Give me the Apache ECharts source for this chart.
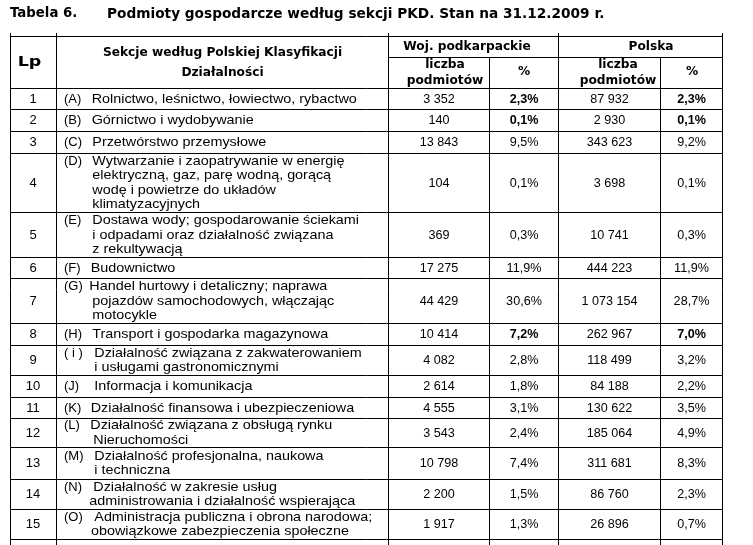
<!DOCTYPE html>
<html>
<head>
<meta charset="utf-8">
<script src="https://cdn.jsdelivr.net/npm/echarts@6/dist/echarts.min.js"></script>
<style>
html,body{margin:0;padding:0;background:#fff;}
#chart{width:753px;height:545px;}
</style>
</head>
<body>
<div id="chart"></div>
<script>
// ---------- DATA ----------
const titleNo = 'Tabela 6.';
const titleText = 'Podmioty gospodarcze według sekcji PKD. Stan na 31.12.2009 r.';
const headerLp = 'Lp';
const headerSection = ['Sekcje według Polskiej Klasyfikacji', 'Działalności'];
const groupLabels = ['Woj. podkarpackie', 'Polska'];
const subLabels = [['liczba', 'podmiotów'], ['%'], ['liczba', 'podmiotów'], ['%']];

const lp = [1, 2, 3, 4, 5, 6, 7, 8, 9, 10, 11, 12, 13, 14, 15];
const sectionCodes = ['(A)', '(B)', '(C)', '(D)', '(E)', '(F)', '(G)', '(H)', '( i )', '(J)', '(K)', '(L)', '(M)', '(N)', '(O)'];
const sectionNames = [
  ['Rolnictwo, leśnictwo, łowiectwo, rybactwo'],
  ['Górnictwo i wydobywanie'],
  ['Przetwórstwo przemysłowe'],
  ['Wytwarzanie i zaopatrywanie w energię', 'elektryczną, gaz, parę wodną, gorącą', 'wodę i powietrze do układów', 'klimatyzacyjnych'],
  ['Dostawa wody; gospodarowanie ściekami', 'i odpadami oraz działalność związana', 'z rekultywacją'],
  ['Budownictwo'],
  ['Handel hurtowy i detaliczny; naprawa', 'pojazdów samochodowych, włączając', 'motocykle'],
  ['Transport i gospodarka magazynowa'],
  ['Działalność związana z zakwaterowaniem', 'i usługami gastronomicznymi'],
  ['Informacja i komunikacja'],
  ['Działalność finansowa i ubezpieczeniowa'],
  ['Działalność związana z obsługą rynku', 'Nieruchomości'],
  ['Działalność profesjonalna, naukowa', 'i techniczna'],
  ['Działalność w zakresie usług', 'administrowania i działalność wspierająca'],
  ['Administracja publiczna i obrona narodowa;', 'obowiązkowe zabezpieczenia społeczne']
];
const podkarpackieCount = [3352, 140, 13843, 104, 369, 17275, 44429, 10414, 4082, 2614, 4555, 3543, 10798, 2200, 1917];
const podkarpackiePct = [2.3, 0.1, 9.5, 0.1, 0.3, 11.9, 30.6, 7.2, 2.8, 1.8, 3.1, 2.4, 7.4, 1.5, 1.3];
const polskaCount = [87932, 2930, 343623, 3698, 10741, 444223, 1073154, 262967, 118499, 84188, 130622, 185064, 311681, 86760, 26896];
const polskaPct = [2.3, 0.1, 9.2, 0.1, 0.3, 11.9, 28.7, 7.0, 3.2, 2.2, 3.5, 4.9, 8.3, 2.3, 0.7];

// ---------- LAYOUT / STYLE ----------
const W = 753, H = 545;
const colX = [10, 56, 388, 489, 558, 660, 722];
const headTop = 36, subLine = 57, headBottom = 88;
const rowHeights = [21, 22, 22, 59, 45, 21, 45, 22, 30, 22, 21, 29, 32, 30, 30];
const lineH = 14.3;
const codeX = 64;
const nameX = [91.7, 91.7, 92.3, 92.3, 92.3, 90.7, 89.3, 92.3, 94.3, 94.3, 90.7, 90.3, 94.3, 93.3, 94.3];
const contX = [91.7, 91.7, 92.3, 92.3, 92.3, 90.7, 92.3, 92.3, 94.3, 94.3, 90.7, 93.3, 94.3, 89.3, 91];
const nameScaleX = 1.105;
const numScaleX = 0.97;
const boldPctRows = [0, 1, 7];
const bodyFont = '13px "Liberation Sans", Arial, sans-serif';
const bodyBold = 'bold 13px "Liberation Sans", Arial, sans-serif';
const headFont = 'bold 12.2px "DejaVu Sans", Verdana, sans-serif';
const lpFont = 'bold 14px "DejaVu Sans", Verdana, sans-serif';
const lpScaleX = 1.25;
const headTextPos = {
  lp: [29.5, 62.5],
  section: [[222.5, 53], [222.5, 73]],
  groups: [[467, 47], [651, 47]],
  subs: [[445, [64.5, 80.5]], [524, [72]], [618, [64.5, 80.5]], [692, [72]]]
};

const rowTops = [headBottom];
rowHeights.forEach(h => rowTops.push(rowTops[rowTops.length - 1] + h));

function fmtInt(n) { return String(n).replace(/\B(?=(\d{3})+(?!\d))/g, ' '); }
function fmtPct(v) { return v.toFixed(1).replace('.', ',') + '%'; }

const crisp = v => Math.round(v) + 0.5;
function hLine(api, x1, x2, y) {
  const a = api.coord([x1, y]), b = api.coord([x2, y]);
  return { type: 'line', shape: { x1: Math.round(a[0]), y1: crisp(a[1]), x2: Math.round(b[0]) + 1, y2: crisp(b[1]) }, style: { stroke: '#000', lineWidth: 1 } };
}
function vLine(api, x, y1, y2) {
  const a = api.coord([x, y1]), b = api.coord([x, y2]);
  return { type: 'line', shape: { x1: crisp(a[0]), y1: Math.round(a[1]), x2: crisp(b[0]), y2: Math.round(b[1]) + 1 }, style: { stroke: '#000', lineWidth: 1 } };
}
function txt(api, s, x, y, font, align, sx) {
  const p = api.coord([x, y]);
  return { type: 'text', x: p[0], y: p[1], scaleX: sx || 1, style: { text: s, x: 0, y: 0, font: font, fill: '#000', align: align || 'center', verticalAlign: 'middle' } };
}

const chart = echarts.init(document.getElementById('chart'), null, { renderer: 'canvas' });
chart.setOption({
  backgroundColor: '#fff',
  animation: false,
  title: [
    { text: titleNo, left: 10, top: 5, padding: 0, textStyle: { fontFamily: '"DejaVu Sans", Verdana', fontWeight: 'bold', fontSize: 13.3, color: '#000', lineHeight: 18 } },
    { text: titleText, left: 107, top: 5, padding: 0, textStyle: { fontFamily: '"DejaVu Sans", Verdana', fontWeight: 'bold', fontSize: 13.7, color: '#000', lineHeight: 18 } }
  ],
  grid: { left: 0, right: 0, top: 0, bottom: 0 },
  xAxis: { type: 'value', min: 0, max: W, show: false },
  yAxis: { type: 'value', min: 0, max: H, inverse: true, show: false },
  series: [
    {
      type: 'custom', name: 'frame', silent: true,
      data: [[0, 0]],
      renderItem: function (params, api) {
        const ch = [];
        ch.push(hLine(api, colX[0], colX[6], headTop));
        ch.push(hLine(api, colX[2], colX[6], subLine));
        ch.push(hLine(api, colX[0], colX[6], headBottom));
        colX.forEach((x, k) => {
          const yStart = (k === 3 || k === 5) ? subLine : headTop - 3;
          ch.push(vLine(api, x, yStart, H));
        });
        ch.push(txt(api, headerLp, headTextPos.lp[0], headTextPos.lp[1], lpFont, 'center', lpScaleX));
        headerSection.forEach((s, j) => ch.push(txt(api, s, headTextPos.section[j][0], headTextPos.section[j][1], headFont)));
        groupLabels.forEach((s, j) => ch.push(txt(api, s, headTextPos.groups[j][0], headTextPos.groups[j][1], headFont)));
        subLabels.forEach((lines, j) => {
          lines.forEach((s, m) => ch.push(txt(api, s, headTextPos.subs[j][0], headTextPos.subs[j][1][m], headFont)));
        });
        return { type: 'group', children: ch };
      }
    },
    {
      type: 'custom', name: 'rows', silent: true,
      data: lp.map((v, i) => [i, v]),
      renderItem: function (params, api) {
        const i = api.value(0);
        const top = rowTops[i], bot = rowTops[i + 1];
        const yc = (top + bot) / 2;
        const ch = [];
        ch.push(hLine(api, colX[0], colX[6], bot));
        ch.push(txt(api, String(lp[i]), (colX[0] + colX[1]) / 2, yc + 0.5, bodyFont));
        const lines = sectionNames[i];
        const y0 = yc - (lines.length - 1) * lineH / 2 + 0.5;
        ch.push(txt(api, sectionCodes[i], codeX, y0, bodyFont, 'left'));
        lines.forEach((s, j) => ch.push(txt(api, s, j === 0 ? nameX[i] : contX[i], y0 + j * lineH, bodyFont, 'left', nameScaleX)));
        const pf = boldPctRows.indexOf(i) >= 0 ? bodyBold : bodyFont;
        const vals = [[fmtInt(podkarpackieCount[i]), bodyFont], [fmtPct(podkarpackiePct[i]), pf], [fmtInt(polskaCount[i]), bodyFont], [fmtPct(polskaPct[i]), pf]];
        vals.forEach((v, k) => ch.push(txt(api, v[0], (colX[k + 2] + colX[k + 3]) / 2 + 0.5, yc + 0.5, v[1], 'center', numScaleX)));
        return { type: 'group', children: ch };
      }
    }
  ]
});
</script>
</body>
</html>
